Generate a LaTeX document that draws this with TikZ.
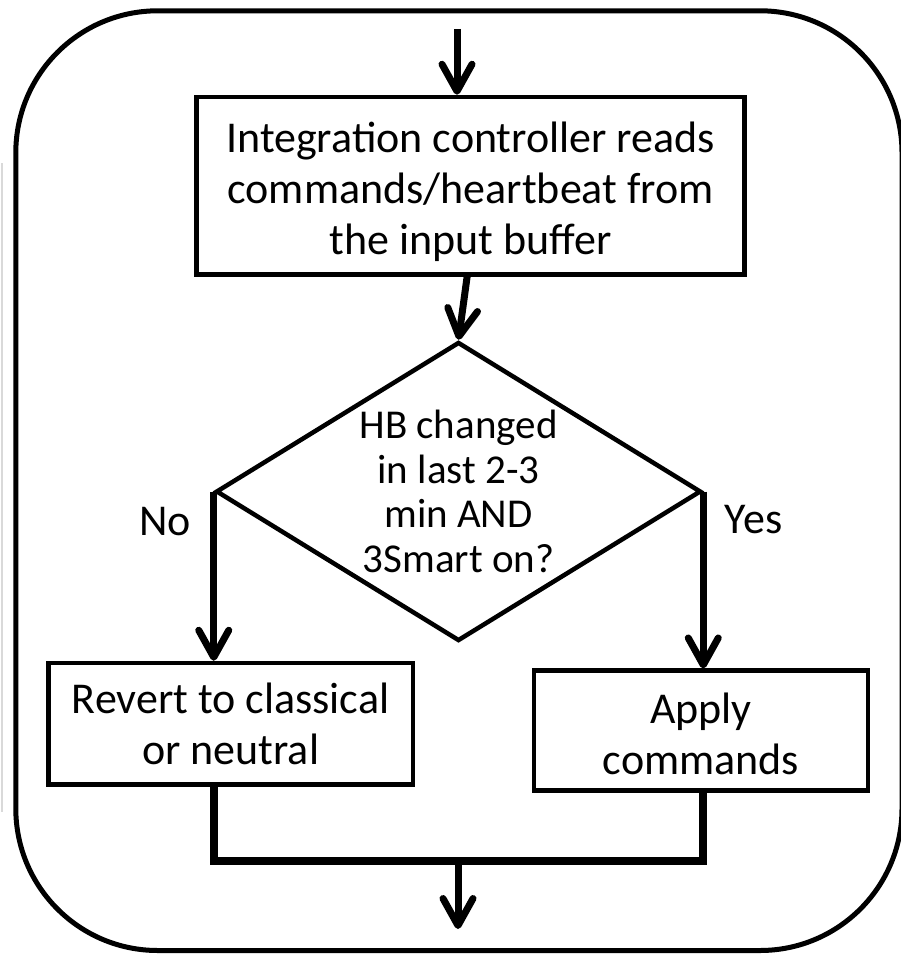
\documentclass[tikz,border=0pt]{standalone}
\usepackage{fontspec}
\setmainfont{Carlito}
\usetikzlibrary{arrows.meta,shapes.geometric}
\begin{document}
\begin{tikzpicture}[x=1pt,y=-1pt,
  box/.style={draw, line width=4.5pt, rectangle, inner sep=0pt},
  boxtext/.style={inner sep=0pt, align=center, font=\fontsize{44}{51}\selectfont},
  dec/.style={draw, line width=4.5pt, diamond, inner sep=0pt, minimum width=485pt, minimum height=299pt},
  dectext/.style={inner sep=0pt, align=center, font=\fontsize{41}{44.5}\selectfont},
  arr/.style={line width=7pt, -{Straight Barb[length=27pt,width=30pt,round]}},
  mergeline/.style={line width=8pt},
  lbl/.style={inner sep=0pt, font=\fontsize{44}{51}\selectfont, anchor=base},
]
\useasboundingbox (0,0) rectangle (900,955);
\draw[gray!30, line width=2pt] (1.5,163) -- (1.5,812);
\draw[line width=5pt, rounded corners=142pt] (15.8,10.8) rectangle (902,950.5);

\node[box, minimum width=548pt, minimum height=177.5pt,
  label={[boxtext, yshift=-6pt]center:{Integration controller reads\\commands/heartbeat from\\the input buffer}}] (top) at (470.6,185.75) {};
\node[dec, label={[dectext]center:{HB changed\\in last 2-3\\min AND\\3Smart on?}}] (dia) at (458.5,491.5) {};
\node[box, minimum width=364.7pt, minimum height=121.7pt,
  label={[boxtext]center:{Revert to classical\\or neutral}}] (revert) at (230.65,723.85) {};
\node[box, minimum width=334.2pt, minimum height=119.6pt,
  label={[boxtext, yshift=-3pt]center:{Apply\\commands}}] (apply) at (700.9,730.5) {};

\node[lbl] (no) at (165,535) {No};
\node[lbl] (yes) at (753.5,533) {Yes};

\coordinate (in) at (457,29);
\coordinate (m) at (458,861);
\coordinate (out) at (458,929);

\draw[arr] (in) -- (in |- top.north);
\draw[arr] ([xshift=-3.5pt]top.south) -- (dia.north);
\draw[arr] (dia.west) -- (dia.west |- revert.north);
\draw[arr] (dia.east) -- (dia.east |- apply.north);
\draw[mergeline] (dia.west |- revert.south) |- (m) -| (dia.east |- apply.south);
\draw[arr] (m) -- (out);
\end{tikzpicture}
\end{document}
